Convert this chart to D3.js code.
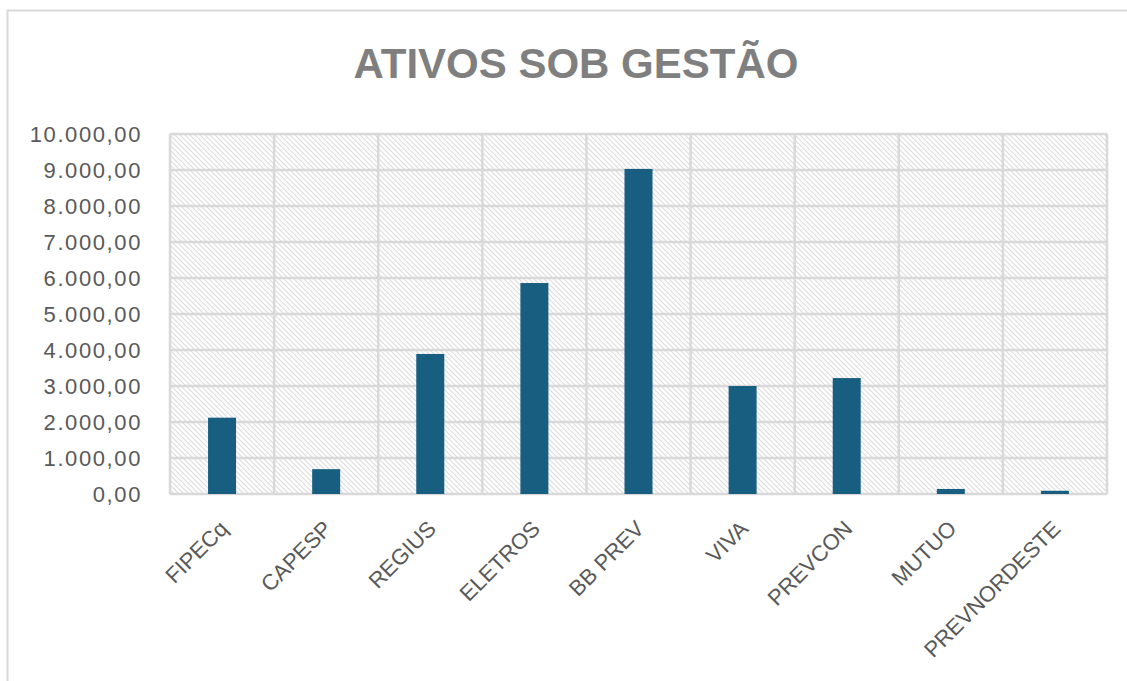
<!DOCTYPE html>
<html lang="pt">
<head>
<meta charset="utf-8">
<title>Ativos sob gestão</title>
<style>
  body { margin: 0; background: #fff; }
  svg text { font-family: "Liberation Sans", Arial, sans-serif; }
</style>
</head>
<body>
<div id="container"></div>
<script src="https://cdn.jsdelivr.net/npm/d3@7"></script>
<script>
var width = 1127, height = 681;

// data
var categories = ["FIPECq", "CAPESP", "REGIUS", "ELETROS", "BB PREV", "VIVA", "PREVCON", "MUTUO", "PREVNORDESTE"];
var values = [2120, 690, 3890, 5860, 9030, 3000, 3220, 140, 90];
var yTicks = [0, 1000, 2000, 3000, 4000, 5000, 6000, 7000, 8000, 9000, 10000];

var plot = {left: 170, right: 1107, top: 134, bottom: 494};

var svg = d3.select("#container").append("svg")
    .attr("width", width)
    .attr("height", height);

// hatch fill of the plot area
var defs = svg.append("defs");
var pat = defs.append("pattern")
    .attr("id", "hatch")
    .attr("patternUnits", "userSpaceOnUse")
    .attr("width", 5).attr("height", 5);
pat.append("rect").attr("width", 5).attr("height", 5).attr("fill", "#fff");
pat.append("path")
    .attr("d", "M0,0L5,5M-1,4L1,6M4,-1L6,1")
    .attr("stroke", "#dcdcdc")
    .attr("stroke-width", 1.1);

// outer chart border
svg.append("rect")
    .attr("x", 7.5).attr("y", 10.5)
    .attr("width", 1200).attr("height", 800)
    .attr("fill", "#fff")
    .attr("stroke", "#d9d9d9")
    .attr("stroke-width", 2);

svg.append("text")
    .attr("x", 576).attr("y", 78)
    .attr("text-anchor", "middle")
    .attr("font-size", 42)
    .attr("font-weight", "bold")
    .attr("fill", "#7f7f7f")
    .text("ATIVOS SOB GESTÃO");

var x = d3.scaleBand()
    .domain(categories)
    .range([plot.left, plot.right])
    .paddingInner(0).paddingOuter(0);

var y = d3.scaleLinear()
    .domain([0, 10000])
    .range([plot.bottom, plot.top]);

svg.append("rect")
    .attr("x", plot.left).attr("y", plot.top)
    .attr("width", plot.right - plot.left)
    .attr("height", plot.bottom - plot.top)
    .attr("fill", "url(#hatch)");

// gridlines
var grid = svg.append("g").attr("stroke", "#d9d9d9").attr("stroke-width", 2.5);
grid.selectAll(".hg").data(yTicks).enter().append("line")
    .attr("x1", plot.left).attr("x2", plot.right)
    .attr("y1", function(d){ return y(d); })
    .attr("y2", function(d){ return y(d); });
var bounds = categories.map(function(c){ return x(c); }).concat([plot.right]);
grid.selectAll(".vg").data(bounds).enter().append("line")
    .attr("y1", plot.top).attr("y2", plot.bottom)
    .attr("x1", function(d){ return d; })
    .attr("x2", function(d){ return d; });

// y axis labels
var fmt = d3.formatLocale({decimal: ",", thousands: ".", grouping: [3], currency: ["R$", ""]}).format(",.2f");
var yAxis = d3.axisLeft(y).tickValues(yTicks).tickFormat(fmt).tickSize(0).tickPadding(0);
var ya = svg.append("g")
    .attr("transform", "translate(142,0)")
    .call(yAxis);
ya.select(".domain").remove();
ya.selectAll("text")
    .attr("font-size", 22)
    .attr("letter-spacing", 1.6)
    .attr("fill", "#595959")
    .attr("font-family", "'Liberation Sans', Arial, sans-serif");

// bars
var barW = 28;
svg.selectAll(".bar").data(values).enter().append("rect")
    .attr("class", "bar")
    .attr("x", function(d, i){ return x(categories[i]) + x.bandwidth() / 2 - barW / 2; })
    .attr("y", function(d){ return y(d); })
    .attr("width", barW)
    .attr("height", function(d){ return y(0) - y(d); })
    .attr("fill", "#175e80");

// x labels
svg.selectAll(".xl").data(categories).enter().append("text")
    .attr("class", "xl")
    .attr("text-anchor", "end")
    .attr("font-size", 22)
    .attr("fill", "#595959")
    .attr("transform", function(d){
      return "translate(" + (x(d) + x.bandwidth() / 2 + 7) + ",530) rotate(-45)";
    })
    .text(function(d){ return d; });
</script>
</body>
</html>
